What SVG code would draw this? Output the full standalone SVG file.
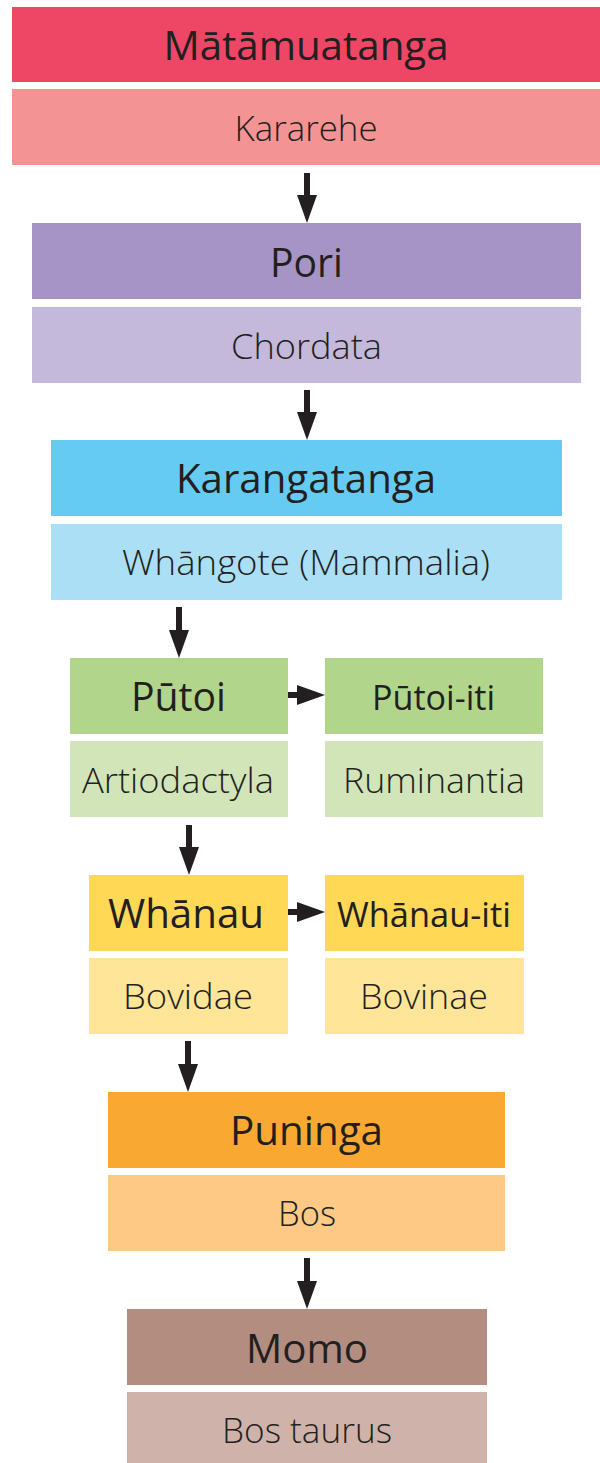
<svg xmlns="http://www.w3.org/2000/svg" width="600" height="1463" viewBox="0 0 600 1463">
<defs>
<style>
text{font-family:"Open Sans","Noto Sans","Liberation Sans",sans-serif;fill:#231F20;text-anchor:middle}
.h{font-size:40px;font-weight:400}
.hs{font-size:34px;font-weight:400}
.s{font-size:34px;font-weight:300}
.ar{stroke:#231F20;stroke-width:6;fill:none}
.hd{fill:#231F20}
</style>
</defs>
<rect width="600" height="1463" fill="#FFFFFF"/>
<g id="matamuatanga">
<rect x="12" y="7" width="588" height="75" fill="#EE4665"/>
<text class="h" x="306" y="60" textLength="285" lengthAdjust="spacingAndGlyphs">Mātāmuatanga</text>
<rect x="12" y="89" width="588" height="76" fill="#F49394"/>
<text class="s" x="306" y="141" textLength="143" lengthAdjust="spacingAndGlyphs">Kararehe</text>
</g>
<g id="pori">
<rect x="32" y="223" width="549" height="76" fill="#A694C6"/>
<text class="h" x="306.5" y="277" textLength="73" lengthAdjust="spacingAndGlyphs">Pori</text>
<rect x="32" y="307" width="549" height="76" fill="#C4B9DB"/>
<text class="s" x="306.5" y="359" textLength="151" lengthAdjust="spacingAndGlyphs">Chordata</text>
</g>
<g id="karangatanga">
<rect x="51" y="440" width="511" height="76" fill="#66CBF2"/>
<text class="h" x="306" y="493" textLength="260" lengthAdjust="spacingAndGlyphs">Karangatanga</text>
<rect x="51" y="524" width="511" height="76" fill="#ABDFF5"/>
<text class="s" x="306" y="575" textLength="368" lengthAdjust="spacingAndGlyphs">Whāngote (Mammalia)</text>
</g>
<g id="putoi">
<rect x="70" y="658" width="218" height="76" fill="#B1D58A"/>
<text class="h" x="178.5" y="711" textLength="95" lengthAdjust="spacingAndGlyphs">Pūtoi</text>
<rect x="70" y="741" width="218" height="76" fill="#D1E5B9"/>
<text class="s" x="178" y="793" textLength="192" lengthAdjust="spacingAndGlyphs">Artiodactyla</text>
</g>
<g id="putoi-iti">
<rect x="325" y="658" width="218" height="76" fill="#B1D58A"/>
<text class="hs" x="433.5" y="710" textLength="123" lengthAdjust="spacingAndGlyphs">Pūtoi-iti</text>
<rect x="325" y="741" width="218" height="76" fill="#D1E5B9"/>
<text class="s" x="434" y="793" textLength="182" lengthAdjust="spacingAndGlyphs">Ruminantia</text>
</g>
<g id="whanau">
<rect x="89" y="875" width="199" height="76" fill="#FFD855"/>
<text class="h" x="186" y="928" textLength="156" lengthAdjust="spacingAndGlyphs">Whānau</text>
<rect x="89" y="958" width="199" height="76" fill="#FFE598"/>
<text class="s" x="188" y="1009" textLength="130" lengthAdjust="spacingAndGlyphs">Bovidae</text>
</g>
<g id="whanau-iti">
<rect x="325" y="875" width="199" height="76" fill="#FFD855"/>
<text class="hs" x="424" y="927" textLength="174" lengthAdjust="spacingAndGlyphs">Whānau-iti</text>
<rect x="325" y="958" width="199" height="76" fill="#FFE598"/>
<text class="s" x="424" y="1009" textLength="128" lengthAdjust="spacingAndGlyphs">Bovinae</text>
</g>
<g id="puninga">
<rect x="108" y="1092" width="397" height="76" fill="#F9A932"/>
<text class="h" x="306.5" y="1145" textLength="153" lengthAdjust="spacingAndGlyphs">Puninga</text>
<rect x="108" y="1175" width="397" height="76" fill="#FDC985"/>
<text class="s" x="307" y="1226" textLength="58" lengthAdjust="spacingAndGlyphs">Bos</text>
</g>
<g id="momo">
<rect x="127" y="1309" width="360" height="76" fill="#B38E80"/>
<text class="h" x="307" y="1363" textLength="122" lengthAdjust="spacingAndGlyphs">Momo</text>
<rect x="127" y="1392" width="360" height="71" fill="#CFB3AA"/>
<text class="s" x="307" y="1443" textLength="170" lengthAdjust="spacingAndGlyphs">Bos taurus</text>
</g>
<g id="connectors">
<line class="ar" x1="307" y1="173" x2="307" y2="197"/>
<path class="hd" d="M297 195 L317 195 L307 223 Z"/>
<line class="ar" x1="307" y1="390" x2="307" y2="414"/>
<path class="hd" d="M297 412 L317 412 L307 440 Z"/>
<line class="ar" x1="179" y1="607" x2="179" y2="632"/>
<path class="hd" d="M169 630 L189 630 L179 658 Z"/>
<line class="ar" x1="189" y1="825" x2="189" y2="849"/>
<path class="hd" d="M179 847 L199 847 L189 875 Z"/>
<line class="ar" x1="188" y1="1041" x2="188" y2="1066"/>
<path class="hd" d="M178 1064 L198 1064 L188 1092 Z"/>
<line class="ar" x1="307" y1="1258" x2="307" y2="1283"/>
<path class="hd" d="M297 1281 L317 1281 L307 1309 Z"/>
<line class="ar" x1="288" y1="695" x2="299" y2="695"/>
<path class="hd" d="M297 685 L325 695 L297 705 Z"/>
<line class="ar" x1="288" y1="912" x2="299" y2="912"/>
<path class="hd" d="M297 902 L325 912 L297 922 Z"/>
</g>
</svg>
